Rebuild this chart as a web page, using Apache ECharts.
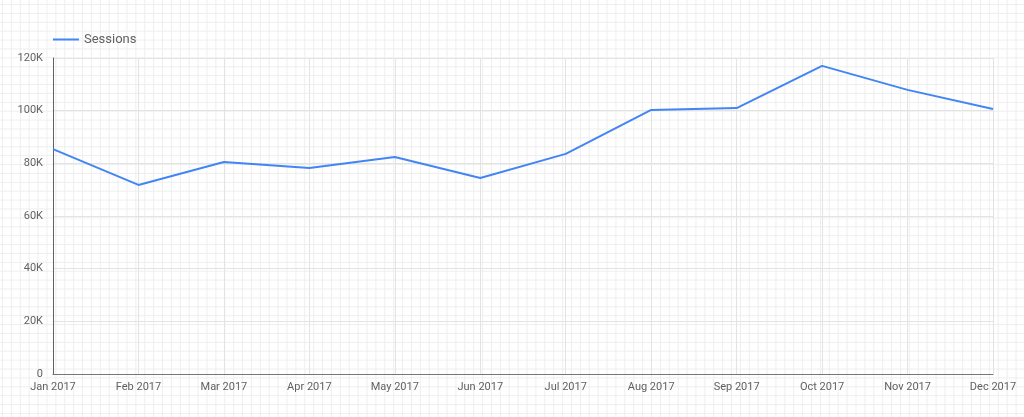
<!DOCTYPE html>
<html>
<head>
<meta charset="utf-8">
<script src="https://cdn.jsdelivr.net/npm/echarts@6/dist/echarts.min.js"></script>
<style>
html,body{margin:0;padding:0;width:1024px;height:417px;overflow:hidden;}
body{
  background-color:#fff;
  background-image:
    linear-gradient(to right, #eeeeee 1px, transparent 1px),
    linear-gradient(to bottom, #eeeeee 1px, transparent 1px);
  background-size:8.9px 8.9px;
  background-position:2px 4px;
}
#chart{width:1024px;height:417px;}
</style>
</head>
<body>
<div id="chart"></div>
<script>
const categories = ['Jan 2017','Feb 2017','Mar 2017','Apr 2017','May 2017','Jun 2017','Jul 2017','Aug 2017','Sep 2017','Oct 2017','Nov 2017','Dec 2017'];
const sessions = [85400, 71800, 80500, 78200, 82400, 74400, 83600, 100300, 101000, 117000, 107900, 100600];
const seriesName = 'Sessions';

const chart = echarts.init(document.getElementById('chart'), null, {renderer:'canvas'});
chart.setOption({
  backgroundColor: 'transparent',
  textStyle: {fontFamily: 'Roboto'},
  legend: {
    left: 53, top: 33, padding: 0,
    itemWidth: 26, itemHeight: 2, itemGap: 10,
    textStyle: {fontSize: 13, color: '#616161', fontFamily: 'Roboto'},
    data: [{name: seriesName, icon: 'rect'}]
  },
  grid: {left: 53, right: 31, top: 58, bottom: 43, containLabel: false},
  xAxis: {
    type: 'category',
    data: categories,
    boundaryGap: false,
    axisLine: {lineStyle: {color: '#757575', width: 1}},
    axisTick: {show: false},
    axisLabel: {fontSize: 11, color: '#616161', margin: 8, fontFamily: 'Roboto'},
    splitLine: {show: true, lineStyle: {color: '#e3e3e3', width: 1}}
  },
  yAxis: {
    type: 'value',
    min: 0, max: 120000, interval: 20000,
    axisLine: {show: true, lineStyle: {color: '#616161', width: 1}},
    axisTick: {show: false},
    axisLabel: {
      fontSize: 11, color: '#616161', margin: 10, fontFamily: 'Roboto',
      formatter: v => v === 0 ? '0' : (v/1000) + 'K'
    },
    splitLine: {show: true, lineStyle: {color: '#e3e3e3', width: 1}}
  },
  series: [{
    name: seriesName,
    type: 'line',
    data: sessions,
    symbol: 'none',
    lineStyle: {color: '#4285f4', width: 2},
    itemStyle: {color: '#4285f4'}
  }]
});
</script>
</body>
</html>
